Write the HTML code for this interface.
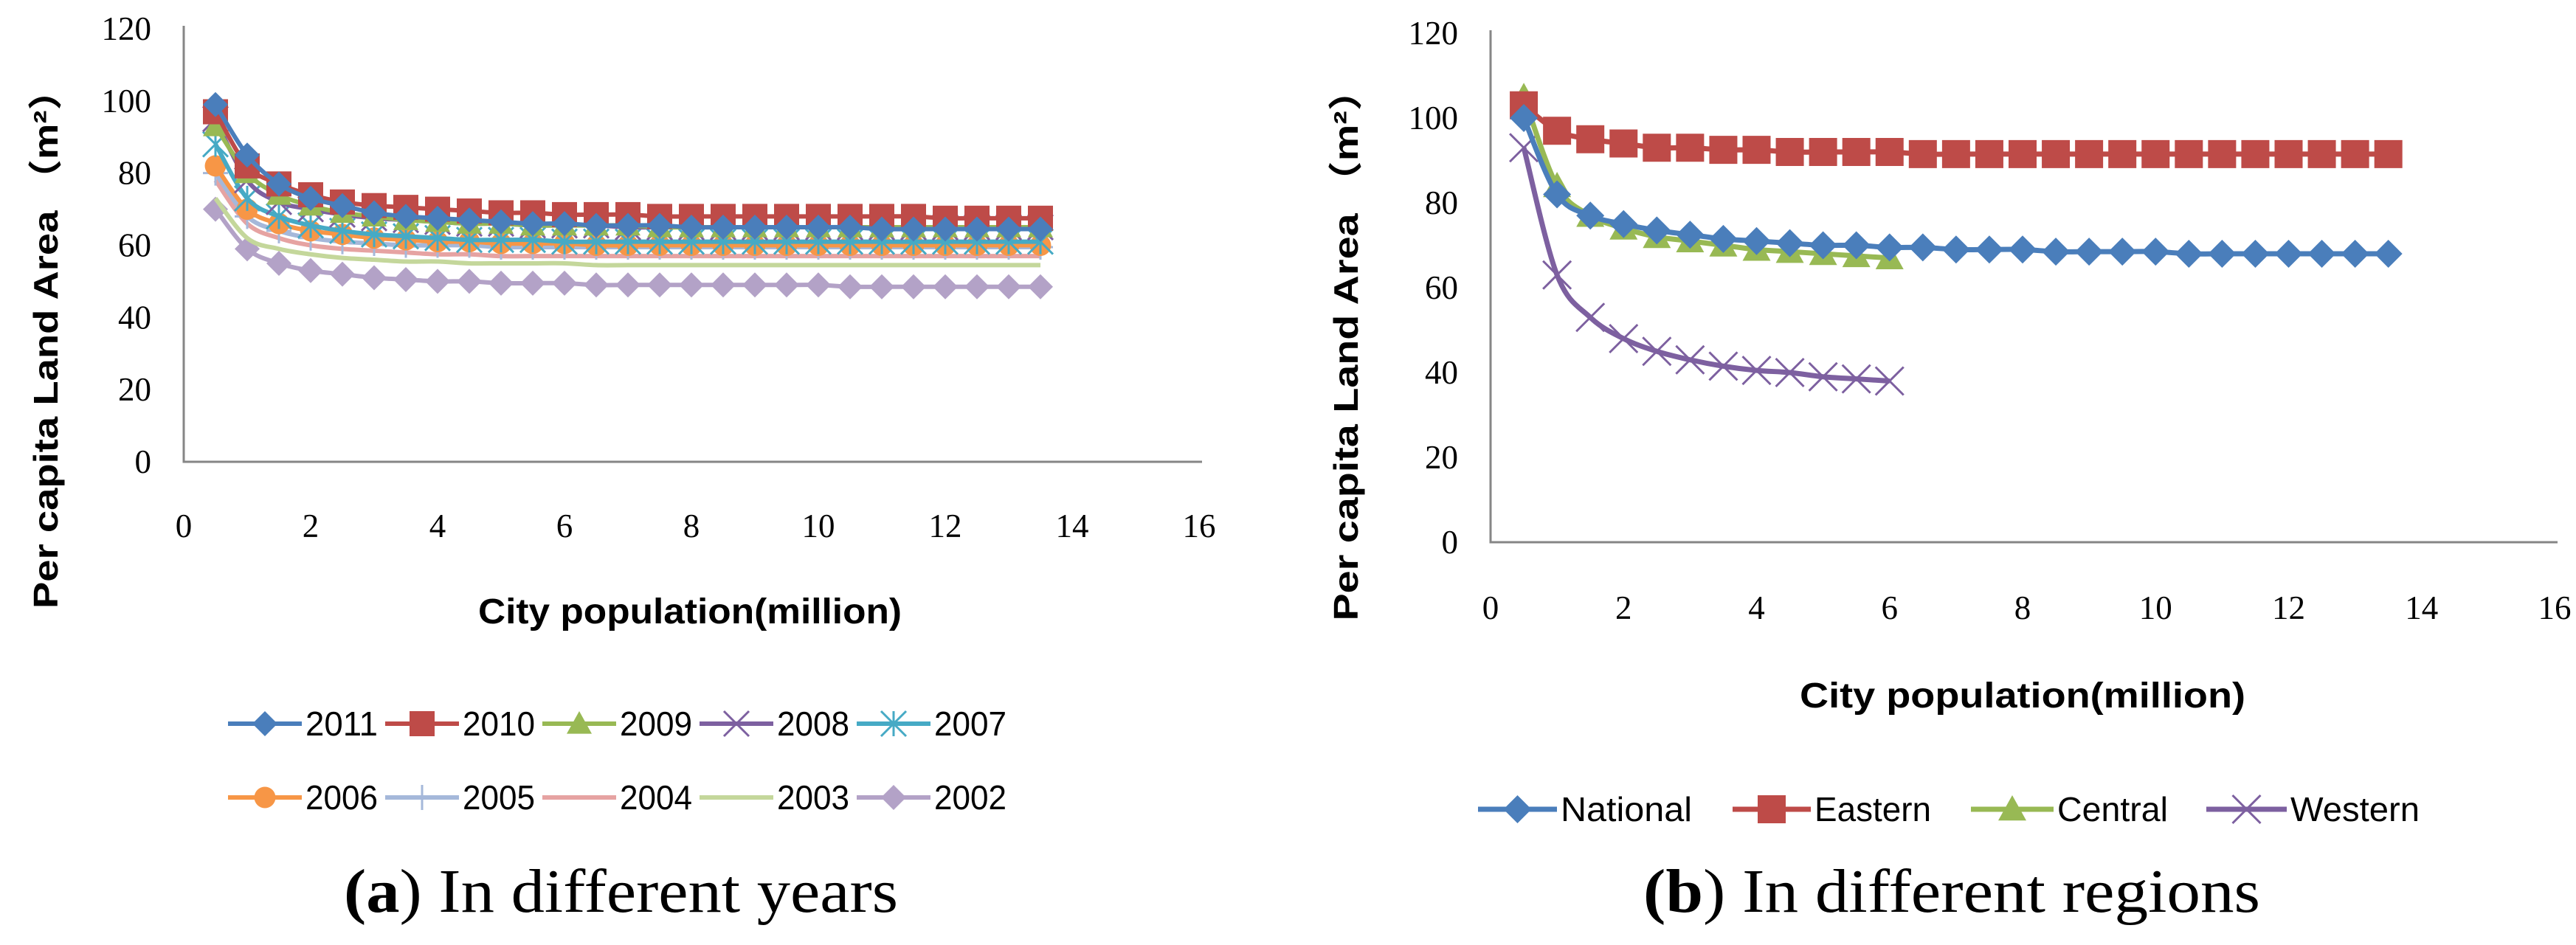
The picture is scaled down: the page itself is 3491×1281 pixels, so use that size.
<!DOCTYPE html>
<html><head><meta charset="utf-8"><style>
html,body{margin:0;padding:0;background:#fff;}
svg{display:block;}
</style></head><body>
<svg id="fig" width="3491" height="1281" viewBox="0 0 3491 1281" xmlns="http://www.w3.org/2000/svg">
<g id="chartA"></g>
<g id="chartB"></g>
<text x="466" y="1236" font-family="Liberation Serif, serif" font-size="84" textLength="751" lengthAdjust="spacingAndGlyphs"><tspan font-weight="bold">(a</tspan>) In different years</text>
<text x="2227" y="1236" font-family="Liberation Serif, serif" font-size="84" textLength="836" lengthAdjust="spacingAndGlyphs"><tspan font-weight="bold">(b</tspan>) In different regions</text>
</svg>
<script>
// ---- Chart A data ----
const xValsA = [0.5,1,1.5,2,2.5,3,3.5,4,4.5,5,5.5,6,6.5,7,7.5,8,8.5,9,9.5,10,10.5,11,11.5,12,12.5,13,13.5];
const yearNames = ["2011","2010","2009","2008","2007","2006","2005","2004","2003","2002"];
const s2011 = [99,85,77,73,71,69,68,67.5,67,66.5,66,66,65.5,65.5,65.5,65,65,65,65,65,65,64.5,64.5,64.5,64.5,64.5,64.5];
const s2010 = [97,82,77,74,72,71,70.5,70,69.5,69,69,68.5,68.5,68.5,68,68,68,68,68,68,68,68,68,67.5,67.5,67.5,67.5];
const s2009 = [93,80,74,71,69,68,67,66.5,66,66,65.5,65.5,65.5,65.5,65,65,65,65,65,65,65,65,65,65,65,65,65];
const s2008 = [95,78,72,70,68.5,67.5,67,66.5,66,66,65.5,65.5,65.5,65,65,65,65,65,65,65,65,65,65,65,65,65,65];
const s2007 = [88,73,68,65.5,64,63,62.5,62,61.5,61.5,61.5,61,61,61,61,61,61,61,61,61,61,61,61,61,61,61,61];
const s2006 = [82,70,66,64,63,62,61.5,61,61,60.5,60.5,60.5,60,60,60,60,60,60,60,60,60,60,60,60,60,60,60];
const s2005 = [80,68,64,62,61,60.5,60,60,60,59.5,59.5,59.5,59.5,59.5,59.5,59.5,59.5,59.5,59.5,59.5,59.5,59.5,59.5,59.5,59.5,59.5,59.5];
const s2004 = [78,66,62,60,59,58.5,58,57.5,57.5,57,57,57,57,57,57,57,57,57,57,57,57,57,57,57,57,57,57];
const s2003 = [73,62,59,57.5,56.5,56,55.5,55.5,55,55,55,55,54.5,54.5,54.5,54.5,54.5,54.5,54.5,54.5,54.5,54.5,54.5,54.5,54.5,54.5,54.5];
const s2002 = [70,59,55,53,52,51,50.5,50,50,49.5,49.5,49.5,49,49,49,49,49,49,49,49,48.5,48.5,48.5,48.5,48.5,48.5,48.5];
const yTicks = [0,20,40,60,80,100,120];
const xTicks = [0,2,4,6,8,10,12,14,16];
// ---- Chart B data ----
const xValsB = [0.5,1,1.5,2,2.5,3,3.5,4,4.5,5,5.5,6,6.5,7,7.5,8,8.5,9,9.5,10,10.5,11,11.5,12,12.5,13,13.5];
const regionNames = ["National","Eastern","Central","Western"];
const sNational = [100,82,77,75,73.5,72.5,71.5,71,70.5,70,70,69.5,69.5,69,69,69,68.5,68.5,68.5,68.5,68,68,68,68,68,68,68];
const sEastern = [103,97,95,94,93,93,92.5,92.5,92,92,92,92,91.5,91.5,91.5,91.5,91.5,91.5,91.5,91.5,91.5,91.5,91.5,91.5,91.5,91.5,91.5];
const sCentral = [105,84,77,74,72,71,70,69,68.5,68,67.5,67];
const sWestern = [93,63,53,48,45,43,41.5,40.5,40,39,38.5,38];

const NS='http://www.w3.org/2000/svg';
function mk(tag, attrs, parent){const e=document.createElementNS(NS,tag);for(const k in attrs)e.setAttribute(k,attrs[k]);parent.appendChild(e);return e;}

function marker(g, type, cx, cy, r, color){
  let e;
  if(type==='diamond'){e=mk('polygon',{points:`${cx},${cy-r} ${cx+r},${cy} ${cx},${cy+r} ${cx-r},${cy}`,fill:color},g);}
  else if(type==='square'){e=mk('rect',{x:cx-r,y:cy-r,width:2*r,height:2*r,fill:color},g);}
  else if(type==='triangle'){e=mk('polygon',{points:`${cx},${cy-r} ${cx+r},${cy+r*0.8} ${cx-r},${cy+r*0.8}`,fill:color},g);}
  else if(type==='circle'){e=mk('circle',{cx:cx,cy:cy,r:r*0.85,fill:color},g);}
  else if(type==='x'){e=mk('path',{d:`M${cx-r},${cy-r}L${cx+r},${cy+r}M${cx+r},${cy-r}L${cx-r},${cy+r}`,stroke:color,'stroke-width':3,fill:'none'},g);}
  else if(type==='star'){e=mk('path',{d:`M${cx-r},${cy-r}L${cx+r},${cy+r}M${cx+r},${cy-r}L${cx-r},${cy+r}M${cx},${cy-r}L${cx},${cy+r}`,stroke:color,'stroke-width':3,fill:'none'},g);}
  else if(type==='plus'){e=mk('path',{d:`M${cx-r},${cy}L${cx+r},${cy}M${cx},${cy-r}L${cx},${cy+r}`,stroke:color,'stroke-width':3,fill:'none'},g);}
  else return null;
  
  
  return e;
}

function smoothPath(pts){
  if(pts.length<2)return '';
  let d=`M${pts[0][0]},${pts[0][1]}`;
  for(let i=0;i<pts.length-1;i++){
    const p0=pts[i-1]||pts[i],p1=pts[i],p2=pts[i+1],p3=pts[i+2]||p2;
    const c1x=p1[0]+(p2[0]-p0[0])/6,c1y=p1[1]+(p2[1]-p0[1])/6;
    const c2x=p2[0]-(p3[0]-p1[0])/6,c2y=p2[1]-(p3[1]-p1[1])/6;
    d+=`C${c1x},${c1y} ${c2x},${c2y} ${p2[0]},${p2[1]}`;
  }
  return d;
}

function drawChart(g, cfg){
  const sx=v=>cfg.x0+(v/16)*(cfg.x1-cfg.x0);
  const sy=v=>cfg.y0-(v/120)*(cfg.y0-cfg.y1);
  const ax=mk('path',{d:`M${cfg.x0},${cfg.y1-4}L${cfg.x0},${cfg.y0}L${cfg.x1+4},${cfg.y0}`,stroke:'#868686','stroke-width':3,fill:'none'},g);
  
  
  yTicks.forEach(t=>{
    const e=mk('text',{x:cfg.x0-44,y:sy(t)+15,'text-anchor':'end','font-family':'Liberation Serif, serif','font-size':45},g);
    e.textContent=t;
    
    
  });
  xTicks.forEach(t=>{
    const e=mk('text',{x:sx(t),y:cfg.xtY+15,'text-anchor':'middle','font-family':'Liberation Serif, serif','font-size':45},g);
    e.textContent=t;
    
    
  });
  const xt=mk('text',{x:cfg.xTitleX,y:cfg.xTitleY+17,'text-anchor':'middle','font-family':'Liberation Sans, sans-serif','font-size':48,'font-weight':'bold',textLength:cfg.xTitleW,lengthAdjust:'spacingAndGlyphs'},g);
  xt.textContent='City population(million)';
  
  
  const yt=mk('text',{x:0,y:0,'text-anchor':'middle','font-family':'Liberation Sans, "Noto Sans CJK SC", sans-serif','font-size':46,'font-weight':'bold',textLength:cfg.yTitleW,lengthAdjust:'spacingAndGlyphs',transform:`translate(${cfg.yTitleX+16},${cfg.yTitleY}) rotate(-90)`},g);
  yt.textContent='Per capita Land Area （m²）';
  
  
  for(let i=cfg.series.length-1;i>=0;i--){
    const s=cfg.series[i];
    const sg=mk('g',{},g);
    
    
    const pts=s.values.map((v,j)=>[sx(cfg.xs[j]),sy(v)]);
    mk('path',{d:smoothPath(pts),stroke:s.color,'stroke-width':cfg.lw,fill:'none'},sg);
    pts.forEach(p=>marker(sg,s.marker,p[0],p[1],cfg.mr,s.color));
  }
  cfg.legend.forEach(L=>{
    const s=cfg.series[L.i];
    const lg=mk('g',{},g);
    
    
    mk('line',{x1:L.x,y1:L.y,x2:L.x+L.lw,y2:L.y,stroke:s.color,'stroke-width':cfg.lw},lg);
    marker(lg,s.marker,L.x+L.lw/2,L.y,cfg.mr,s.color);
    const t=mk('text',{x:L.x+L.lw+5,y:L.y+16,'font-family':'Liberation Sans, sans-serif','font-size':46,textLength:L.tw,lengthAdjust:'spacingAndGlyphs'},lg);
    t.textContent=s.name;
  });
}

const colorsA=['#4a7ebb','#be4b48','#98b954','#7d60a0','#46aac5','#f79646','#a5b8da','#e6a3a2','#c4d79b','#b3a2c7'];
const markersA=['diamond','square','triangle','x','star','circle','plus','none','none','diamond'];
const valsA=[s2011,s2010,s2009,s2008,s2007,s2006,s2005,s2004,s2003,s2002];
const seriesA=yearNames.map((n,i)=>({name:n,values:valsA[i],color:colorsA[i],marker:markersA[i]}));
const legA=[];
yearNames.forEach((n,i)=>{const r=Math.floor(i/5),c=i%5;legA.push({i:i,x:309+c*213,y:981+r*100,lw:100,tw:98});});
drawChart(document.getElementById('chartA'),{x0:249,x1:1625,y0:626,y1:39,xtY:713,xTitleX:935,xTitleY:828,xTitleW:574,yTitleX:62,yTitleY:460,yTitleW:730,xs:xValsA,series:seriesA,lw:6,mr:17,legend:legA});

const seriesB=[
 {name:'National',values:sNational,color:'#4a7ebb',marker:'diamond'},
 {name:'Eastern',values:sEastern,color:'#be4b48',marker:'square'},
 {name:'Central',values:sCentral,color:'#98b954',marker:'triangle'},
 {name:'Western',values:sWestern,color:'#7d60a0',marker:'x'}];
const legB=[{i:0,x:2003,y:1097,lw:107,tw:178},{i:1,x:2348,y:1097,lw:106,tw:158},{i:2,x:2671,y:1097,lw:112,tw:150},{i:3,x:2990,y:1097,lw:109,tw:175}];
drawChart(document.getElementById('chartB'),{x0:2020,x1:3462,y0:735,y1:45,xtY:824,xTitleX:2741,xTitleY:942,xTitleW:604,yTitleX:1824,yTitleY:468,yTitleW:747,xs:xValsB,series:seriesB,lw:7,mr:19,legend:legB});
</script>
</body></html>
